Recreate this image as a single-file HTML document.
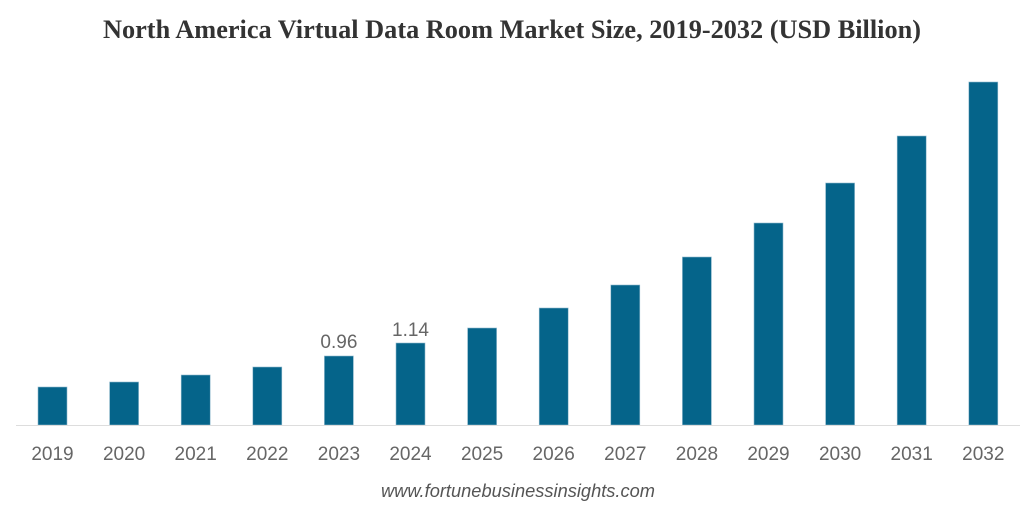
<!DOCTYPE html>
<html>
<head>
<meta charset="utf-8">
<style>
  html,body{margin:0;padding:0;background:#fff;}
  svg{display:block;}
</style>
</head>
<body>
<svg width="1024" height="510" viewBox="0 0 1024 510" xmlns="http://www.w3.org/2000/svg">
  <rect width="1024" height="510" fill="#ffffff"/>
  <text x="512" y="38" text-anchor="middle" font-family="Liberation Serif, serif" font-weight="bold" font-size="26" fill="#333" textLength="818" lengthAdjust="spacingAndGlyphs">North America Virtual Data Room Market Size, 2019-2032 (USD Billion)</text>

  <g fill="#05648a" stroke="#8fb8cc" stroke-width="0.6">
    <rect x="38" y="387" width="29" height="38"/>
    <rect x="109.6" y="382" width="29" height="43"/>
    <rect x="181.2" y="375" width="29" height="50"/>
    <rect x="252.8" y="367" width="29" height="58"/>
    <rect x="324.4" y="356" width="29" height="69"/>
    <rect x="396" y="343" width="29" height="82"/>
    <rect x="467.6" y="328" width="29" height="97"/>
    <rect x="539.2" y="308" width="29" height="117"/>
    <rect x="610.8" y="285" width="29" height="140"/>
    <rect x="682.4" y="257" width="29" height="168"/>
    <rect x="754" y="223" width="29" height="202"/>
    <rect x="825.6" y="183" width="29" height="242"/>
    <rect x="897.2" y="136" width="29" height="289"/>
    <rect x="968.8" y="82" width="29" height="343"/>
  </g>

  <line x1="16" y1="425.5" x2="1020" y2="425.5" stroke="#dddddd" stroke-width="1"/>

  <g font-family="Liberation Sans, Arial, sans-serif" font-size="19" fill="#666" text-anchor="middle">
    <text x="338.9" y="348">0.96</text>
    <text x="410.5" y="336">1.14</text>
  </g>

  <g font-family="Liberation Sans, Arial, sans-serif" font-size="19" fill="#666" text-anchor="middle">
    <text x="52.5" y="460">2019</text>
    <text x="124.1" y="460">2020</text>
    <text x="195.7" y="460">2021</text>
    <text x="267.3" y="460">2022</text>
    <text x="338.9" y="460">2023</text>
    <text x="410.5" y="460">2024</text>
    <text x="482.1" y="460">2025</text>
    <text x="553.7" y="460">2026</text>
    <text x="625.3" y="460">2027</text>
    <text x="696.9" y="460">2028</text>
    <text x="768.5" y="460">2029</text>
    <text x="840.1" y="460">2030</text>
    <text x="911.7" y="460">2031</text>
    <text x="983.3" y="460">2032</text>
  </g>

  <text x="518" y="497" text-anchor="middle" font-family="Liberation Sans, Arial, sans-serif" font-style="italic" font-size="18" fill="#555" textLength="274" lengthAdjust="spacingAndGlyphs">www.fortunebusinessinsights.com</text>
</svg>
</body>
</html>
